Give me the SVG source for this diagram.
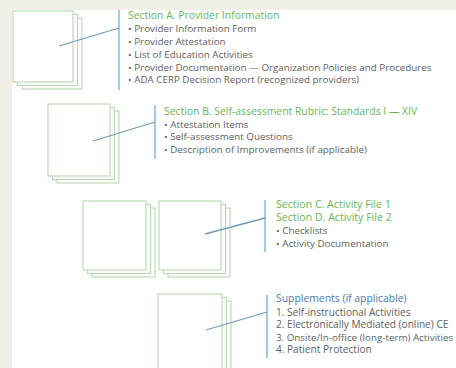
<svg xmlns="http://www.w3.org/2000/svg" width="456" height="368" viewBox="0 0 456 368">
<style>
.pg{fill:#ffffff;stroke:#b9ddb2;stroke-width:1.2}
.bar{stroke:#a8c8e4;stroke-width:2.2}
.ln{stroke:#6f9cbc;stroke-width:1.3;fill:none}
text{font-family:"Open Sans","Noto Sans","DejaVu Sans",sans-serif;font-size:9.8px;fill:#606060}
.gt{fill:#66b857;font-size:10.4px}
.bt{fill:#4a7cb3;font-size:10.4px}
.lg{font-size:10.1px}
.lgt{font-size:10.6px}
</style>
<rect x="0" y="0" width="456" height="368" fill="#f2efe8"/>
<rect x="12" y="10" width="444" height="358" fill="#ffffff"/>

<g id="stack-a">
<rect class="pg" x="22" y="18" width="60" height="71"/>
<rect class="pg" x="17.5" y="14.5" width="60" height="71"/>
<rect class="pg" x="13" y="11" width="60" height="71"/>
</g>
<g id="stack-b">
<rect class="pg" x="57" y="111" width="62" height="72"/>
<rect class="pg" x="52.5" y="107.5" width="62" height="72"/>
<rect class="pg" x="48" y="104" width="62" height="72"/>
</g>
<g id="stack-c1">
<rect class="pg" x="92" y="208" width="63" height="69"/>
<rect class="pg" x="87.5" y="204.5" width="63" height="69"/>
<rect class="pg" x="83" y="201" width="63" height="69"/>
</g>
<g id="stack-c2">
<rect class="pg" x="168" y="208" width="62" height="69"/>
<rect class="pg" x="163.5" y="204.5" width="62" height="69"/>
<rect class="pg" x="159" y="201" width="62" height="69"/>
</g>
<g id="stack-d">
<rect class="pg" x="167" y="301" width="64" height="80"/>
<rect class="pg" x="162.5" y="297.5" width="64" height="80"/>
<rect class="pg" x="158" y="294" width="64" height="80"/>
</g>

<g id="connectors">
<line class="bar" x1="119" y1="10" x2="119" y2="90"/>
<line class="ln" x1="59" y1="46" x2="119" y2="28"/>
<line class="bar" x1="155" y1="105" x2="155" y2="159"/>
<line class="ln" x1="93" y1="141" x2="155" y2="122"/>
<line class="bar" x1="265" y1="200" x2="265" y2="252"/>
<line class="ln" x1="205" y1="234" x2="265" y2="218"/>
<line class="bar" x1="267" y1="295" x2="267" y2="358"/>
<line class="ln" x1="206" y1="330" x2="267" y2="312"/>
</g>

<g id="text-a">
<text class="gt" x="128" y="19">Section A. Provider Information</text>
<text x="128" y="32">• Provider Information Form</text>
<text x="128" y="45">• Provider Attestation</text>
<text x="128" y="57.5">• List of Education Activities</text>
<text x="128" y="70.5">• Provider Documentation — Organization Policies and Procedures</text>
<text x="128" y="83">• ADA CERP Decision Report (recognized providers)</text>
</g>
<g id="text-b">
<text class="gt" x="164" y="114.5">Section B. Self-assessment Rubric: Standards I — XIV</text>
<text x="164" y="127.5">• Attestation Items</text>
<text x="164" y="140">• Self-assessment Questions</text>
<text x="164" y="152.5">• Description of Improvements (if applicable)</text>
</g>
<g id="text-c">
<text class="gt lgt" x="276" y="207.5">Section C. Activity File 1</text>
<text class="gt lgt" x="276" y="220.5">Section D. Activity File 2</text>
<text x="276" y="234">• Checklists</text>
<text x="276" y="246.5">• Activity Documentation</text>
</g>
<g id="text-d">
<text class="bt" x="276" y="302">Supplements (if applicable)</text>
<text class="lg" x="276" y="315.5">1. Self-instructional Activities</text>
<text class="lg" x="276" y="328">2. Electronically Mediated (online) CE</text>
<text x="276" y="340.5">3. Onsite/In-office (long-term) Activities</text>
<text class="lg" x="276" y="353">4. Patient Protection</text>
</g>
</svg>
